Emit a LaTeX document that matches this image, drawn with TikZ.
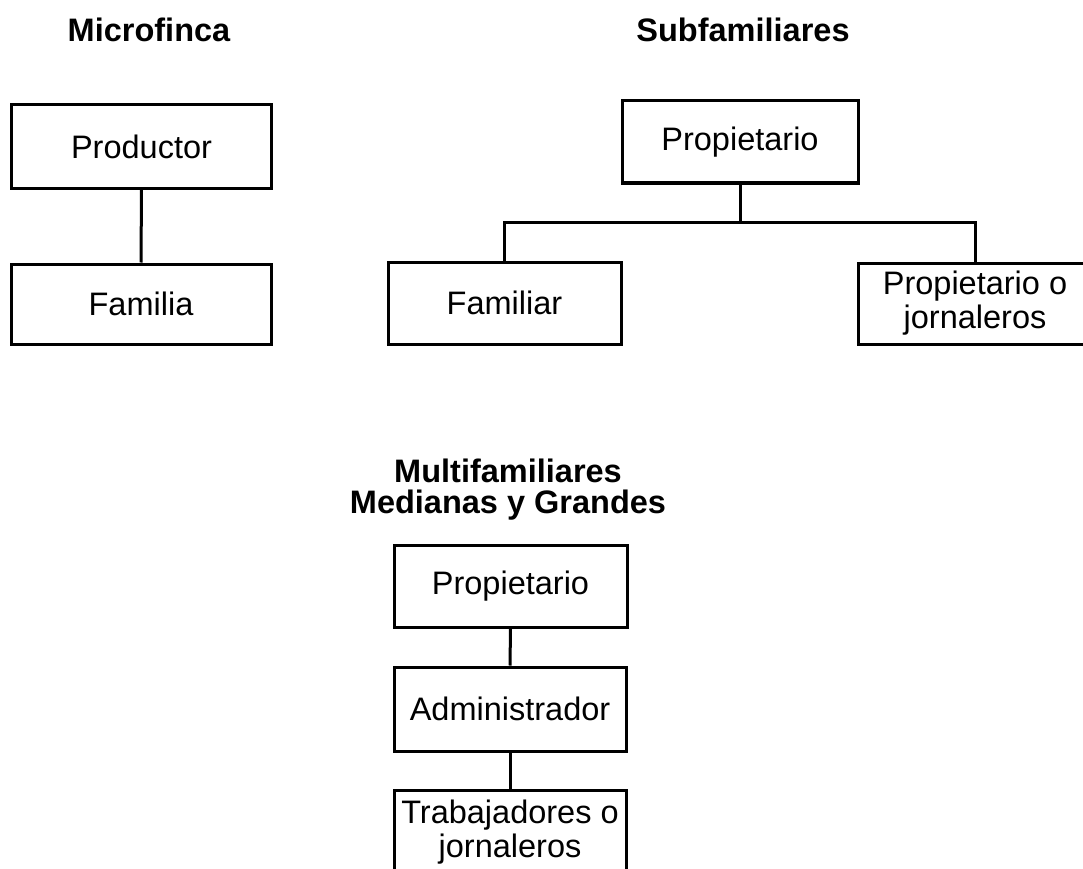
\documentclass[tikz,border=0pt]{standalone}
\usepackage{fontspec}
\setmainfont{Liberation Sans}
\begin{document}
\begin{tikzpicture}[x=1pt,y=-1pt,
  box/.style={draw=black, line width=3pt, inner sep=0pt, align=center,
    font=\fontsize{32.5}{34}\selectfont},
  title/.style={inner sep=0pt, align=center, font=\fontsize{32.5}{31}\selectfont\bfseries},
  link/.style={line width=3pt}]
\useasboundingbox (0,0) rectangle (1083,869);
\clip (0,0) rectangle (1083,869);
% titles
\node[title] (t1) at (149,30) {Microfinca};
\node[title] (t2) at (743,30) {Subfamiliares};
\node[title] (t3) at (508,490) {Multifamiliares\\Medianas y Grandes};
% Microfinca
\node[box, minimum width=260pt, minimum height=83pt] (prod) at (141.5,146.5) {Productor};
\node[box, minimum width=260pt, minimum height=80pt] (fam) at (141,304) {Familia};
\draw[link] (prod.south) -- (fam.north);
% Subfamiliares
\node[box, minimum width=236pt, minimum height=82pt] (sprop) at (740,142) {Propietario};
\node[box, minimum width=233pt, minimum height=82pt] (sfam) at (504.5,303) {Familiar};
\node[box, minimum width=234pt, minimum height=81pt] (spj) at (975,303.5) {Propietario o\\jornaleros};
\coordinate (j) at (740,222);
\draw[link] (sprop.south) -- (j);
\draw[link] (sfam.north) |- (j) -| (spj.north);
% Multifamiliares
\node[box, minimum width=233pt, minimum height=82pt] (mprop) at (510.5,586) {Propietario};
\node[box, minimum width=232pt, minimum height=84pt] (madm) at (510,709) {Administrador};
\node[box, minimum width=232pt, minimum height=84pt] (mtra) at (510,832) {Trabajadores o\\jornaleros};
\draw[link] (mprop.south) -- (madm.north);
\draw[link] (madm.south) -- (mtra.north);
\end{tikzpicture}
\end{document}
